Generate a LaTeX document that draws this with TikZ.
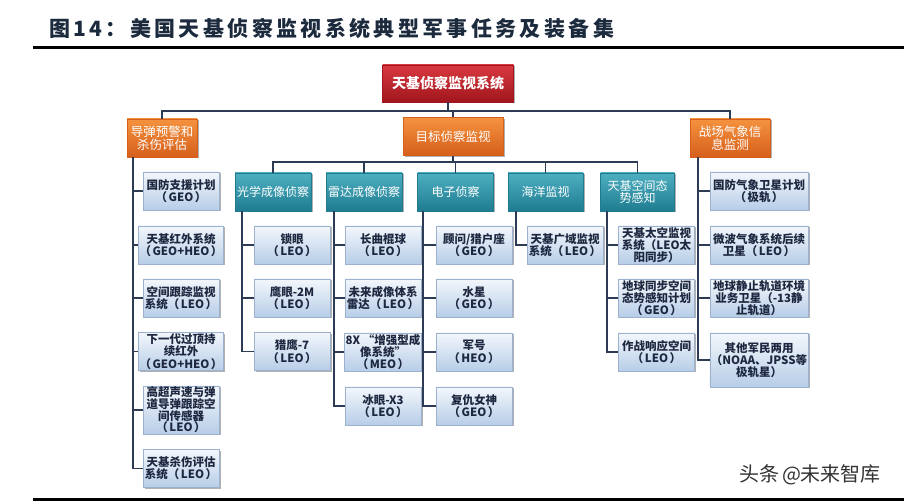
\documentclass[tikz,border=0pt]{standalone}
\usepackage{fontspec}
\setmainfont{Noto Sans CJK SC}
\usetikzlibrary{shadows}
\definecolor{linec}{HTML}{2E3B55}
\definecolor{txtc}{HTML}{1D2840}
\definecolor{lbtop}{HTML}{F3F7FC}
\definecolor{lbbot}{HTML}{B7CDE7}
\definecolor{lbborder}{HTML}{9BB1CE}
\definecolor{tealtop}{HTML}{4EAFC1}
\definecolor{tealbot}{HTML}{1F7C90}
\definecolor{orgtop}{HTML}{F4923F}
\definecolor{orgbot}{HTML}{D65F1B}
\definecolor{redtop}{HTML}{D83A40}
\definecolor{redbot}{HTML}{A1151C}
\definecolor{titlec}{HTML}{1C2A3E}
\newcommand{\pp}[1]{（\hspace{1.5pt}#1\hspace{1.5pt}）}
\tikzset{
  conn/.style={draw=linec, line width=1.8pt},
  shad/.style={drop shadow={shadow xshift=1.5pt, shadow yshift=-1.5pt, fill=black, opacity=0.3}},
  lbox/.style={shad, draw=lbborder, line width=0.6pt, top color=lbtop, bottom color=lbbot,
    minimum width=76pt, minimum height=38pt, inner sep=1pt, align=center, text=txtc,
    font=\bfseries\fontsize{11.5}{12.3}\selectfont},
  tbox/.style={shad, draw=tealbot, line width=0.4pt, top color=tealtop, bottom color=tealbot,
    minimum width=76pt, minimum height=38pt, inner sep=1pt, align=center, text=white,
    font=\fontsize{12}{12.5}\selectfont},
  obox/.style={shad, draw=orgbot, line width=0.4pt, top color=orgtop, bottom color=orgbot,
    minimum height=38pt, inner sep=1pt, align=center, text=white,
    font=\fontsize{12.5}{13}\selectfont},
  rbox/.style={shad, draw=redbot, line width=0.4pt, top color=redtop, bottom color=redbot,
    minimum width=131pt, minimum height=37pt, inner sep=1pt, align=center, text=white,
    font=\bfseries\fontsize{14}{15}\selectfont},
  rule/.style={draw=black, line width=3pt}
}
\begin{document}
\begin{tikzpicture}[x=1pt,y=-1pt]
\fill[white] (0,0) rectangle (908,502);
\useasboundingbox (0,0) rectangle (908,502);

% title and rules
\node[anchor=west, text=titlec, font=\bfseries\fontsize{21}{22}\selectfont\addfontfeature{LetterSpace=16}, inner sep=0] (title) at (49,29) {图14：美国天基侦察监视系统典型军事任务及装备集};
\draw[rule] (33,48) -- (904,48);
\draw[rule] (33,499) -- (904,499);
\node[text=black!80, font=\fontsize{20}{21}\selectfont, inner sep=0] (wm) at (810,475) {头条\hspace{3pt}@未来智库};

% root and level 1
\node[rbox] (root) at (448,83.5) {天基侦察监视系统};
\node[obox, minimum width=70pt] (o1) at (162,138) {导弹预警和\\杀伤评估};
\node[obox, minimum width=100pt] (o2) at (453,136.5) {目标侦察监视};
\node[obox, minimum width=80pt] (o3) at (730,138) {战场气象信\\息监测};
\coordinate (bus) at (448,111);
\coordinate (sbus) at (453,162);

% level 2
\node[tbox] (t1) at (273,192) {光学成像侦察};
\node[tbox] (t2) at (364,192) {雷达成像侦察};
\node[tbox] (t3) at (455.5,192) {电子侦察};
\node[tbox, minimum width=75pt] (t4) at (545.5,192) {海洋监视};
\node[tbox, minimum width=74pt] (t5) at (637.5,192) {天基空间态\\势感知};

% left column
\node[lbox] (a1) at (181,191) {国防支援计划\\\pp{GEO}};
\node[lbox] (a2) at (181,245) {天基红外系统\\\pp{GEO+HEO}};
\node[lbox] (a3) at (181,298) {空间跟踪监视\\系统\pp{LEO}};
\node[lbox] (a4) at (181,351.5) {下一代过顶持\\续红外\\\pp{GEO+HEO}};
\node[lbox, minimum height=48pt, font=\bfseries\fontsize{11.5}{11.6}\selectfont] (a5) at (181,410) {高超声速与弹\\道导弹跟踪空\\间传感器\\\pp{LEO}};
\node[lbox] (a6) at (181,468.5) {天基杀伤评估\\系统\pp{LEO}};

% optical
\node[lbox] (b1) at (292,245) {锁眼\\\pp{LEO}};
\node[lbox] (b2) at (292,298) {鹰眼-2M\\\pp{LEO}};
\node[lbox] (b3) at (292,351.5) {猎鹰-7\\\pp{LEO}};

% radar
\node[lbox] (c1) at (383,245) {长曲棍球\\\pp{LEO}};
\node[lbox] (c2) at (383,298) {未来成像体系\\雷达\pp{LEO}};
\node[lbox] (c3) at (383,352) {8X “增强型成\\像系统”\\\pp{MEO}};
\node[lbox] (c4) at (383,406) {冰眼-X3\\\pp{LEO}};

% electronic
\node[lbox] (d1) at (474,245) {顾问/猎户座\\\pp{GEO}};
\node[lbox] (d2) at (474,298) {水星\\\pp{GEO}};
\node[lbox] (d3) at (474,352) {军号\\\pp{HEO}};
\node[lbox] (d4) at (474,406) {复仇女神\\\pp{GEO}};

% ocean
\node[lbox] (e1) at (565,245) {天基广域监视\\系统\pp{LEO}};

% space awareness
\node[lbox] (f1) at (656.5,245) {天基太空监视\\系统（LEO太\\阳同步）};
\node[lbox] (f2) at (656.5,298) {地球同步空间\\态势感知计划\\\pp{GEO}};
\node[lbox] (f3) at (656.5,352) {作战响应空间\\\pp{LEO}};

% weather
\node[lbox, minimum width=98pt] (g1) at (759,191) {国防气象卫星计划\\\pp{极轨}};
\node[lbox, minimum width=98pt] (g2) at (759,245) {微波气象系统后续\\卫星\pp{LEO}};
\node[lbox, minimum width=98pt] (g3) at (759,298) {地球静止轨道环境\\业务卫星（-13静\\止轨道）};
\node[lbox, minimum width=98pt, minimum height=54pt] (g4) at (759,360) {其他军民两用\\（NOAA、JPSS等\\极轨星）};

% top bus
\draw[conn] (root.south) -- (root.south |- bus);
\draw[conn] (o1.north) -- (o1.north |- bus) -- (o3.north |- bus) -- (o3.north);
\draw[conn] (o2.north) -- (o2.north |- bus);

% sub bus
\draw[conn] (o2.south) -- (o2.south |- sbus);
\draw[conn] (t1.north) -- (t1.north |- sbus) -- (t5.north |- sbus) -- (t5.north);
\foreach \t in {t2,t3,t4} \draw[conn] (\t.north) -- (\t.north |- sbus);

% column connectors
\foreach \c in {a1,a2,a3,a4,a5,a6} \draw[conn] ([xshift=6pt]o1.south west) |- (\c.west);
\foreach \c in {b1,b2,b3} \draw[conn] ([xshift=7pt]t1.south west) |- (\c.west);
\foreach \c in {c1,c2,c3,c4} \draw[conn] ([xshift=8pt]t2.south west) |- (\c.west);
\foreach \c in {d1,d2,d3,d4} \draw[conn] ([xshift=6pt]t3.south west) |- (\c.west);
\foreach \c in {e1} \draw[conn] ([xshift=8pt]t4.south west) |- (\c.west);
\foreach \c in {f1,f2,f3} \draw[conn] ([xshift=7pt]t5.south west) |- (\c.west);
\foreach \c in {g1,g2,g3,g4} \draw[conn] ([xshift=8pt]o3.south west) |- (\c.west);
\end{tikzpicture}
\end{document}
